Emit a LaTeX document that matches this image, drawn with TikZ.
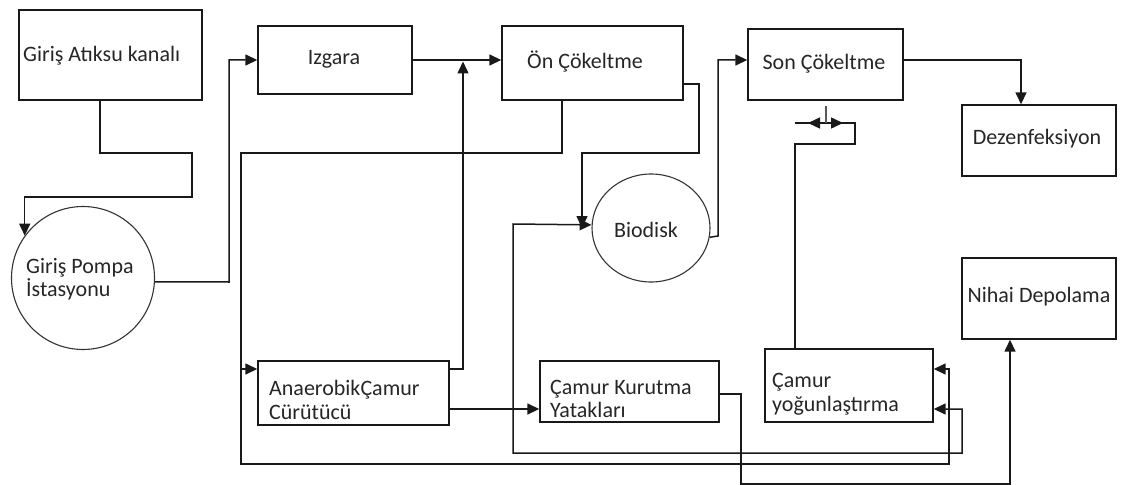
\documentclass[tikz,border=0pt]{standalone}
\usepackage{fontspec}
\setmainfont{Carlito}
\usetikzlibrary{arrows.meta,fit,shapes.geometric}
\begin{document}
\begin{tikzpicture}[x=1pt,y=-1pt,
  box/.style={draw=black!90, line width=1.4pt, inner sep=0pt},
  disc/.style={draw=black!80, line width=1.1pt, inner sep=0pt},
  txt/.style={inner sep=0pt, align=left, text=black!85,
    font=\fontsize{22}{23.5}\selectfont},
  conn/.style={draw=black!90, line width=1.5pt},
  tip/.style={-{Triangle[length=12pt,width=11pt]}},
  bitip/.style={{Triangle[length=12pt,width=11pt]}-{Triangle[length=12pt,width=11pt]}}]
\useasboundingbox (0,0) rectangle (1123,484);
\clip (0,0) rectangle (1123,484);

% process units
\node[box, fit={(19,10) (202,100)}] (kanal) {};
\node[box, fit={(258,26) (412,94)}] (izgara) {};
\node[box, fit={(502,26) (683,100)}] (on) {};
\node[box, fit={(748,29) (903,100)}] (son) {};
\node[box, fit={(962,105) (1116,176)}] (dez) {};
\node[box, fit={(962,258) (1116,339)}] (nihai) {};
\node[box, fit={(765,349) (933,422)}] (yog) {};
\node[box, fit={(540,361) (719,422)}] (kurutma) {};
\node[box, fit={(258,361) (449,425)}] (anaerobik) {};
\node[disc, circle, minimum size=143pt] (pompa) at (83,278) {};
\node[disc, ellipse, minimum width=118pt, minimum height=108pt] (bio) at (651,228) {};

% labels
\node[txt, anchor=west] (tkanal) at (23,56) {Giriş Atıksu kanalı};
\node[txt] (tizgara) at (334,59) {Izgara};
\node[txt, anchor=west] (ton) at (527,62) {Ön Çökeltme};
\node[txt] (tson) at (824,64) {Son Çökeltme};
\node[txt] (tdez) at (1037,139) {Dezenfeksiyon};
\node[txt] (tnihai) at (1039,297) {Nihai Depolama};
\node[txt, anchor=west] (tpompa) at (26,279) {Giriş Pompa\\İstasyonu};
\node[txt] (tbio) at (646,230) {Biodisk};
\node[txt, anchor=west] (tanaerobik) at (269,400) {AnaerobikÇamur\\Cürütücü};
\node[txt, anchor=west] (tkurutma) at (550,399) {Çamur Kurutma\\Yatakları};
\node[txt, anchor=west] (tyog) at (772,394) {Çamur\\yoğunlaştırma};

\coordinate (bioin) at (582,228);
\coordinate (junction) at (463,61.5);

% main flow line
\draw[conn, tip] (kanal.south -| 100,0) -- (100,153) -- (192,153) -- (192,197)
  -- (pompa.144 |- 0,197) -- (pompa.144);
\draw[conn, tip] (pompa.-3) -- (229,282) -- (229,60) -- (izgara.west |- 0,60);
\draw[conn, tip] (izgara.east |- 0,60) -- (on.west |- 0,60);
\draw[conn, tip] (anaerobik.east |- 0,369) -- (463,369) -- (junction);
\draw[conn, tip] (on.east |- 0,84) -- (699,84) -- (699,153) -- (582,153) -- (bioin);
\draw[conn, tip] (bio.-9) -- (718,236) -- (718,60) -- (son.west |- 0,60);
\draw[conn, tip] (son.east |- 0,60) -- (1021,60) -- (dez.north -| 1021,0);

% sludge lines
\draw[conn, tip] (on.south -| 562,0) -- (562,153) -- (241,153) -- (241,464)
  -- (949,464) -- (949,369) -- (yog.east |- 0,369);
\draw[conn, tip] (241,369) -- (anaerobik.west |- 0,369);
\draw[conn, bitip] (yog.east |- 0,409) -- (962,409) -- (962,453) -- (513,453)
  -- (513,224) -- (bio.177);
\draw[conn, tip] (anaerobik.east |- 0,409) -- (kurutma.west |- 0,409);
\draw[conn, tip] (kurutma.east |- 0,394) -- (741,394) -- (741,484) -- (1010,484)
  -- (nihai.south -| 1010,0);

% return sludge with valve
\draw[conn] (yog.north -| 795,0) -- (795,144) -- (855,144) -- (855,123) -- (795,123);
\coordinate (valve) at (826,123);
\draw[conn, tip] (valve) -- (808,123);
\draw[conn, tip] (valve) -- (843,123);
\draw[draw=black!65, line width=1.5pt] (son.south -| 826,0) ++(0,5) -- (valve);
\end{tikzpicture}
\end{document}
